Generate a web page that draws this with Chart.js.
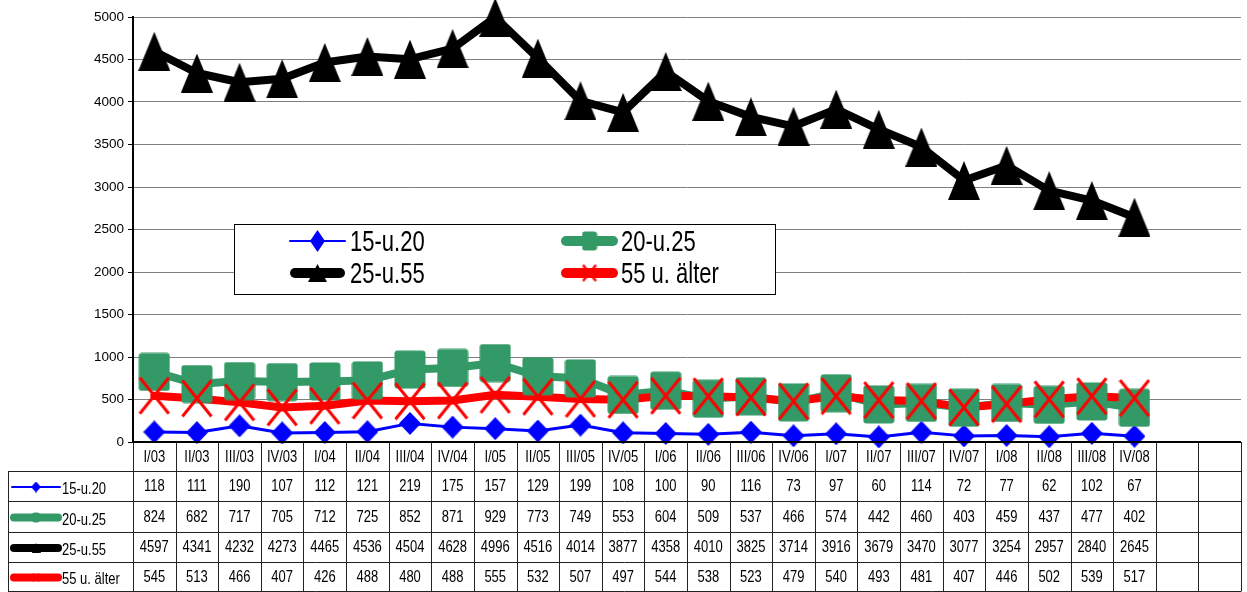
<!DOCTYPE html>
<html>
<head>
<meta charset="utf-8">
<script src="https://cdn.jsdelivr.net/npm/chart.js@4/dist/chart.umd.min.js"></script>
<style>
html,body{margin:0;padding:0;background:#fff;}
canvas{display:block;}
</style>
</head>
<body>
<canvas id="c" width="1247" height="592"></canvas>
<script>
// ---- data ----
const categories = ['I/03','II/03','III/03','IV/03','I/04','II/04','III/04','IV/04','I/05','II/05','III/05','IV/05','I/06','II/06','III/06','IV/06','I/07','II/07','III/07','IV/07','I/08','II/08','III/08','IV/08','',''];
const seriesNames = ['15-u.20','20-u.25','25-u.55','55 u. älter'];
const s15u20 = [118,111,190,107,112,121,219,175,157,129,199,108,100,90,116,73,97,60,114,72,77,62,102,67];
const s20u25 = [824,682,717,705,712,725,852,871,929,773,749,553,604,509,537,466,574,442,460,403,459,437,477,402];
const s25u55 = [4597,4341,4232,4273,4465,4536,4504,4628,4996,4516,4014,3877,4358,4010,3825,3714,3916,3679,3470,3077,3254,2957,2840,2645];
const s55plus = [545,513,466,407,426,488,480,488,555,532,507,497,544,538,523,479,540,493,481,407,446,502,539,517];
const yTicks = [0,500,1000,1500,2000,2500,3000,3500,4000,4500,5000];

const seriesValues = [s15u20, s20u25, s25u55, s55plus];
const colors = ['#0000FF','#339966','#000000','#FF0000'];
const FONT = '"Liberation Sans", Arial, sans-serif';

// ---- marker images ----
function mk(w,h,draw){const c=document.createElement('canvas');c.width=w;c.height=h;const g=c.getContext('2d');draw(g,w,h);return c;}
function diamond(w,h,col){return mk(w,h,(g)=>{g.fillStyle=col;g.beginPath();g.moveTo(w/2,0);g.lineTo(w,h/2);g.lineTo(w/2,h);g.lineTo(0,h/2);g.closePath();g.fill();});}
function square(w,h,col){return mk(w,h,(g)=>{g.fillStyle=col;g.beginPath();if(g.roundRect){g.roundRect(0.5,0.5,w-1,h-1,3);}else{g.rect(0,0,w,h);}g.fill();});}
function triangle(w,h,col){return mk(w,h,(g)=>{g.fillStyle=col;g.beginPath();g.moveTo(w/2,0);g.lineTo(w,h);g.lineTo(0,h);g.closePath();g.fill();});}
function cross(w,h,col,lw){return mk(w,h,(g)=>{g.strokeStyle=col;g.lineWidth=lw;g.beginPath();g.moveTo(1.5,1.5);g.lineTo(w-1.5,h-1.5);g.moveTo(w-1.5,1.5);g.lineTo(1.5,h-1.5);g.stroke();});}

const bigMarkers = [diamond(22,23,colors[0]), square(32,39,colors[1]), triangle(32,39,colors[2]), cross(32,39,colors[3],3)];
const legMarkers = [diamond(15,22,colors[0]), square(16,20,colors[1]), triangle(19,18,colors[2]), cross(16,19,colors[3],2.5)];
const tblMarkers = [diamond(10,11,colors[0]), square(9,11,colors[1]), triangle(9,10,colors[2]), cross(9,11,colors[3],1.5)];
const lineWidths = [3,8,8,8];

// ---- datasets: lines first (below), markers on top ----
const datasets = [];
seriesNames.forEach((name,i)=>{
  datasets.push({
    label: name + ' line', data: seriesValues[i], borderColor: colors[i], backgroundColor: colors[i],
    borderWidth: lineWidths[i], pointRadius: 0, tension: 0, borderJoinStyle: 'round', borderCapStyle: 'round',
    order: 10 + (3 - i), clip: false
  });
  datasets.push({
    label: name, data: seriesValues[i], showLine: false, pointStyle: bigMarkers[i], pointRadius: 5,
    borderColor: colors[i], backgroundColor: colors[i], order: 3 - i, clip: false
  });
});

function sText(ctx, str, x, y, sy){ctx.save();ctx.translate(x,y);ctx.scale(1,sy);ctx.fillText(str,0,0);ctx.restore();}

const legendPlugin = {
  id: 'customLegend',
  afterDatasetsDraw(chart){
    const ctx = chart.ctx;
    ctx.save();
    const L=234,T=224,R=775,B=294;
    ctx.fillStyle='#fff';ctx.fillRect(L,T,R-L,B-T);
    ctx.strokeStyle='#000';ctx.lineWidth=1;ctx.strokeRect(L+0.5,T+0.5,R-L,B-T);
    const items=[{x1:290,x2:345,y:241,tx:350},{x1:561,x2:618,y:241,tx:621},{x1:290,x2:345,y:273,tx:350},{x1:561,x2:618,y:273,tx:621}];
    const lw=[2,10,10,10];
    items.forEach((it,i)=>{
      ctx.strokeStyle=colors[i];ctx.lineWidth=lw[i];ctx.lineCap='round';
      ctx.beginPath();ctx.moveTo(it.x1+(i?5:0),it.y);ctx.lineTo(it.x2-(i?5:0),it.y);ctx.stroke();
      const m=legMarkers[i];ctx.drawImage(m,(it.x1+it.x2)/2-m.width/2,it.y-m.height/2);
      ctx.fillStyle='#000';ctx.font='22px '+FONT;ctx.textAlign='left';ctx.textBaseline='middle';
      sText(ctx,seriesNames[i],it.tx,it.y+2,1.3);
    });
    ctx.restore();
  }
};

const tablePlugin = {
  id: 'dataTable',
  afterDraw(chart){
    const ctx=chart.ctx, area=chart.chartArea, xs=chart.scales.x;
    const n=categories.length;
    const cw=(area.right-area.left)/n;
    const top=area.bottom;
    const rows=[top, top+29, top+59, top+90, top+120, top+149];
    const right=area.left+n*cw;
    ctx.save();
    ctx.strokeStyle='#222';ctx.lineWidth=1;
    for(let r=1;r<rows.length;r++){
      const y=Math.round(rows[r])+0.5;
      ctx.beginPath();ctx.moveTo(8,y);ctx.lineTo(right,y);ctx.stroke();
    }
    for(let i=0;i<=n;i++){
      const x=Math.round(area.left+i*cw)+0.5;
      ctx.beginPath();ctx.moveTo(x,top);ctx.lineTo(x,rows[5]+0.5);ctx.stroke();
    }
    ctx.beginPath();ctx.moveTo(8.5,rows[1]);ctx.lineTo(8.5,rows[5]+0.5);ctx.stroke();
    ctx.strokeStyle='#000';ctx.lineWidth=2;
    ctx.beginPath();ctx.moveTo(area.left-1,top);ctx.lineTo(right,top);ctx.stroke();
    ctx.fillStyle='#000';ctx.font='13px '+FONT;ctx.textAlign='center';ctx.textBaseline='middle';
    for(let i=0;i<n;i++){
      const cx=xs.getPixelForValue(i);
      if(categories[i]) sText(ctx,categories[i],cx,(rows[0]+rows[1])/2+1,1.25);
      for(let s=0;s<4;s++){
        const v=seriesValues[s][i];
        if(v!==undefined&&v!==null) sText(ctx,String(v),cx,(rows[s+1]+rows[s+2])/2+1,1.25);
      }
    }
    const lwT=[2,8,8,8];
    for(let s=0;s<4;s++){
      const y=(rows[s+1]+rows[s+2])/2+1;
      ctx.strokeStyle=colors[s];ctx.lineWidth=lwT[s];ctx.lineCap='round';
      ctx.beginPath();ctx.moveTo(s?14:12,y);ctx.lineTo(s?58:60,y);ctx.stroke();
      const m=tblMarkers[s];ctx.drawImage(m,36-m.width/2,y-m.height/2);
      ctx.fillStyle='#000';ctx.textAlign='left';ctx.textBaseline='alphabetic';
      sText(ctx,seriesNames[s],62,rows[s+2]-7,1.25);
    }
    ctx.restore();
  }
};

new Chart(document.getElementById('c'), {
  type: 'line',
  data: { labels: categories, datasets: datasets },
  options: {
    responsive: false, animation: false, devicePixelRatio: 1, events: [],
    layout: { padding: { left: 0, top: 17, right: 3, bottom: 150 } },
    plugins: { legend: { display: false }, tooltip: { enabled: false } },
    scales: {
      x: { type: 'category', offset: true, display: false },
      y: {
        min: 0, max: 5000,
        afterFit(scale){ scale.width = 133; },
        afterBuildTicks(scale){ scale.ticks = yTicks.map(v=>({value:v})); },
        ticks: { color: '#000', font: { family: FONT, size: 13.5 }, padding: 4, callback: (v)=>String(v) },
        grid: { color: (c)=> c.tick && c.tick.value===0 ? '#000' : '#808080', lineWidth: 1, tickLength: 5, tickColor: '#000' },
        border: { color: '#000', width: 2 }
      }
    }
  },
  plugins: [legendPlugin, tablePlugin]
});
</script>
</body>
</html>
